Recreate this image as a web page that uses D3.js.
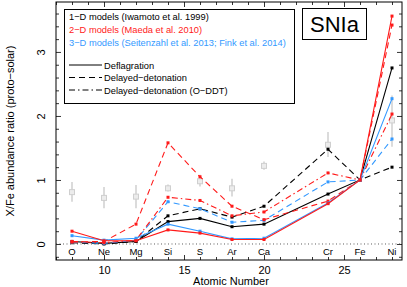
<!DOCTYPE html>
<html>
<head>
<meta charset="utf-8">
<script src="https://cdn.jsdelivr.net/npm/d3@7"></script>
<style>
  body { margin: 0; background: #fff; }
  svg { display: block; font-family: "Liberation Sans", Arial, sans-serif; }
</style>
</head>
<body>
<div id="chart"></div>
<script>
// elements and atomic numbers
const elements = ["O", "Ne", "Mg", "Si", "S", "Ar", "Ca", "Cr", "Fe", "Ni"];
const atomicNumbers = [8, 10, 12, 14, 16, 18, 20, 24, 26, 28];

// observed ratios (gray squares), Fe is the reference so no point
const obsValues = [0.81, 0.72, 0.74, 0.87, 0.98, 0.87, 1.22, 1.55, null, 1.93];
const obsErrLow = [0.66, 0.56, 0.56, 0.82, 0.9, 0.74, 1.16, 1.36, null, 1.52];
const obsErrHigh = [0.97, 0.89, 0.92, 0.93, 1.08, 1.02, 1.29, 1.75, null, 2.32];

// 1-D models (Iwamoto et al. 1999)
const iwamotoDeflagration = [0.04, 0.01, 0.04, 0.35, 0.4, 0.27, 0.31, 0.78, 1, 2.75];
const iwamotoDDT = [0.02, 0.0, 0.04, 0.44, 0.55, 0.42, 0.59, 1.48, 1, 1.2];
// 2-D models (Maeda et al. 2010)
const maedaDeflagration = [0.2, 0.05, 0.05, 0.22, 0.17, 0.07, 0.07, 0.63, 1, 3.56];
const maedaDDT = [0.03, 0.04, 0.31, 1.58, 1.05, 0.59, 0.38, 0.67, 1, 3.42];
const maedaODDT = [0.04, 0.02, 0.06, 0.73, 0.68, 0.44, 0.5, 1.11, 1, 2.03];
// 3-D models (Seitenzahl et al. 2013; Fink et al. 2014)
const finkDeflagration = [0.13, 0.06, 0.09, 0.31, 0.2, 0.08, 0.09, 0.64, 1, 2.27];
const seitenzahlDDT = [0.03, 0.01, 0.06, 0.66, 0.55, 0.34, 0.37, 0.97, 1, 1.64];

const xTicks = [10, 15, 20, 25];
const yTicks = [0, 1, 2, 3];

const RED = "#ff1a1a", BLUE = "#3399ff", BLACK = "#000";
const DASH = "6,4", DASHDOT = "6,3,1.5,3";

const series = [
  { values: iwamotoDeflagration, color: BLACK, dash: null },
  { values: iwamotoDDT, color: BLACK, dash: DASH },
  { values: seitenzahlDDT, color: BLUE, dash: DASH },
  { values: maedaODDT, color: RED, dash: DASHDOT },
  { values: maedaDDT, color: RED, dash: DASH },
  { values: finkDeflagration, color: BLUE, dash: null },
  { values: maedaDeflagration, color: RED, dash: null }
];

const W = 407, H = 287;
const pLeft = 56, pRight = 402, pTop = 2, pBottom = 260;

const svg = d3.select("#chart").append("svg").attr("width", W).attr("height", H);

const x = d3.scaleLinear().domain([7, 28.625]).range([pLeft, pRight]);
const y = d3.scaleLinear().domain([-0.25, 3.78]).range([pBottom, pTop]);

// ---- axes (ticks inward on all sides) ----
const xMinor = d3.range(7, 29, 1).filter(v => !xTicks.includes(v));
const yMinor = d3.range(-0.2, 3.8, 0.2).map(v => +v.toFixed(1)).filter(v => !yTicks.includes(v));

function tickAxis(axisFn, scale, values, size, fmt) {
  return axisFn(scale).tickValues(values).tickSize(size).tickFormat(fmt || "");
}

const axes = svg.append("g").attr("class", "axes");
const xBottom = axes.append("g").attr("transform", `translate(0,${pBottom})`)
  .call(tickAxis(d3.axisBottom, x, xTicks, -5, d3.format("d")));
axes.append("g").attr("transform", `translate(0,${pBottom})`)
  .call(tickAxis(d3.axisBottom, x, xMinor, -3));
axes.append("g").attr("transform", `translate(0,${pTop})`)
  .call(tickAxis(d3.axisTop, x, xTicks, -5));
axes.append("g").attr("transform", `translate(0,${pTop})`)
  .call(tickAxis(d3.axisTop, x, xMinor, -3));
const yLeft = axes.append("g").attr("transform", `translate(${pLeft},0)`)
  .call(tickAxis(d3.axisLeft, y, yTicks, -5, d3.format("d")));
axes.append("g").attr("transform", `translate(${pLeft},0)`)
  .call(tickAxis(d3.axisLeft, y, yMinor, -3));
axes.append("g").attr("transform", `translate(${pRight},0)`)
  .call(tickAxis(d3.axisRight, y, yTicks, -5));
axes.append("g").attr("transform", `translate(${pRight},0)`)
  .call(tickAxis(d3.axisRight, y, yMinor, -3));

axes.selectAll(".domain").remove();
axes.selectAll("line").attr("stroke", "#000").attr("stroke-width", 0.8);
axes.selectAll("text").attr("fill", "#000").style("font-size", "11px")
  .style("font-family", "'Liberation Sans', Arial, sans-serif");

// rotated y tick labels like the original
yLeft.selectAll(".tick text")
  .attr("x", null).attr("dy", null).attr("y", 0)
  .attr("text-anchor", "middle")
  .attr("transform", "translate(-11,0) rotate(-90)");
xBottom.selectAll(".tick text").attr("y", 6);

// frame
svg.append("rect")
  .attr("x", pLeft).attr("y", pTop)
  .attr("width", pRight - pLeft).attr("height", pBottom - pTop)
  .attr("fill", "none").attr("stroke", "#000").attr("stroke-width", 1);

// zero line
svg.append("line")
  .attr("x1", pLeft).attr("x2", pRight)
  .attr("y1", y(0)).attr("y2", y(0))
  .attr("stroke", "#333").attr("stroke-width", 0.8).attr("stroke-dasharray", "1,2.5");

// element labels
svg.append("g").selectAll("text").data(elements).join("text")
  .attr("x", (d, i) => x(atomicNumbers[i]))
  .attr("y", pBottom - 5)
  .attr("text-anchor", "middle")
  .style("font-size", "9.5px")
  .text(d => d);

// ---- observations ----
const obs = svg.append("g").attr("class", "obs");
const obsIdx = d3.range(elements.length).filter(i => obsValues[i] !== null);
obs.selectAll("line").data(obsIdx).join("line")
  .attr("x1", i => x(atomicNumbers[i])).attr("x2", i => x(atomicNumbers[i]))
  .attr("y1", i => y(obsErrLow[i])).attr("y2", i => y(obsErrHigh[i]))
  .attr("stroke", "#cfcfcf").attr("stroke-width", 1.5);
obs.selectAll("rect").data(obsIdx).join("rect")
  .attr("x", i => x(atomicNumbers[i]) - 2.5).attr("y", i => y(obsValues[i]) - 2.5)
  .attr("width", 5).attr("height", 5)
  .attr("fill", "#ececec").attr("stroke", "#cfcfcf").attr("stroke-width", 1);

// ---- model lines ----
const line = d3.line().x((d, i) => x(atomicNumbers[i])).y(d => y(d));
const models = svg.append("g").attr("class", "models");
series.forEach(s => {
  models.append("path")
    .attr("d", line(s.values))
    .attr("fill", "none").attr("stroke", s.color).attr("stroke-width", 1.1)
    .attr("stroke-dasharray", s.dash);
  models.append("g").selectAll("rect").data(s.values).join("rect")
    .attr("x", (d, i) => x(atomicNumbers[i]) - 1.5)
    .attr("y", d => y(d) - 1.5)
    .attr("width", 3).attr("height", 3)
    .attr("fill", s.color);
});

// ---- legend ----
const legend = svg.append("g");
legend.append("rect")
  .attr("x", 64.5).attr("y", 9.5).attr("width", 230).attr("height", 94)
  .attr("fill", "#fff").attr("stroke", "#000").attr("stroke-width", 1);
const legendTexts = [
  { text: "1\u2212D models (Iwamoto et al. 1999)", color: BLACK },
  { text: "2\u2212D models (Maeda et al. 2010)", color: RED },
  { text: "3\u2212D models (Seitenzahl et al. 2013; Fink et al. 2014)", color: BLUE }
];
legend.selectAll("text.model").data(legendTexts).join("text")
  .attr("class", "model")
  .attr("x", 69).attr("y", (d, i) => 19.5 + i * 13)
  .attr("fill", d => d.color)
  .style("font-size", "9.3px")
  .text(d => d.text);
const legendLines = [
  { text: "Deflagration", dash: null },
  { text: "Delayed\u2212detonation", dash: DASH },
  { text: "Delayed\u2212detonation (O\u2212DDT)", dash: DASHDOT }
];
const ll = legend.selectAll("g.ls").data(legendLines).join("g").attr("class", "ls")
  .attr("transform", (d, i) => `translate(0,${65 + i * 12.5})`);
ll.append("line")
  .attr("x1", 69).attr("x2", 102).attr("y1", 0).attr("y2", 0)
  .attr("stroke", "#000").attr("stroke-width", 1)
  .attr("stroke-dasharray", d => d.dash);
ll.append("text")
  .attr("x", 104).attr("y", 3.5)
  .style("font-size", "9.3px")
  .text(d => d.text);

// SNIa label box
svg.append("rect")
  .attr("x", 302.5).attr("y", 8.5).attr("width", 64).attr("height", 31)
  .attr("fill", "#fff").attr("stroke", "#000").attr("stroke-width", 1);
svg.append("text")
  .attr("x", 334.5).attr("y", 32)
  .attr("text-anchor", "middle")
  .style("font-size", "22px")
  .text("SNIa");

// axis titles
svg.append("text")
  .attr("x", (pLeft + pRight) / 2 + 2).attr("y", 285)
  .attr("text-anchor", "middle")
  .style("font-size", "11px")
  .text("Atomic Number");
svg.append("text")
  .attr("transform", `translate(14,${(pTop + pBottom) / 2}) rotate(-90)`)
  .attr("text-anchor", "middle")
  .style("font-size", "11px")
  .text("X/Fe abundance ratio (proto\u2212solar)");
</script>
</body>
</html>
